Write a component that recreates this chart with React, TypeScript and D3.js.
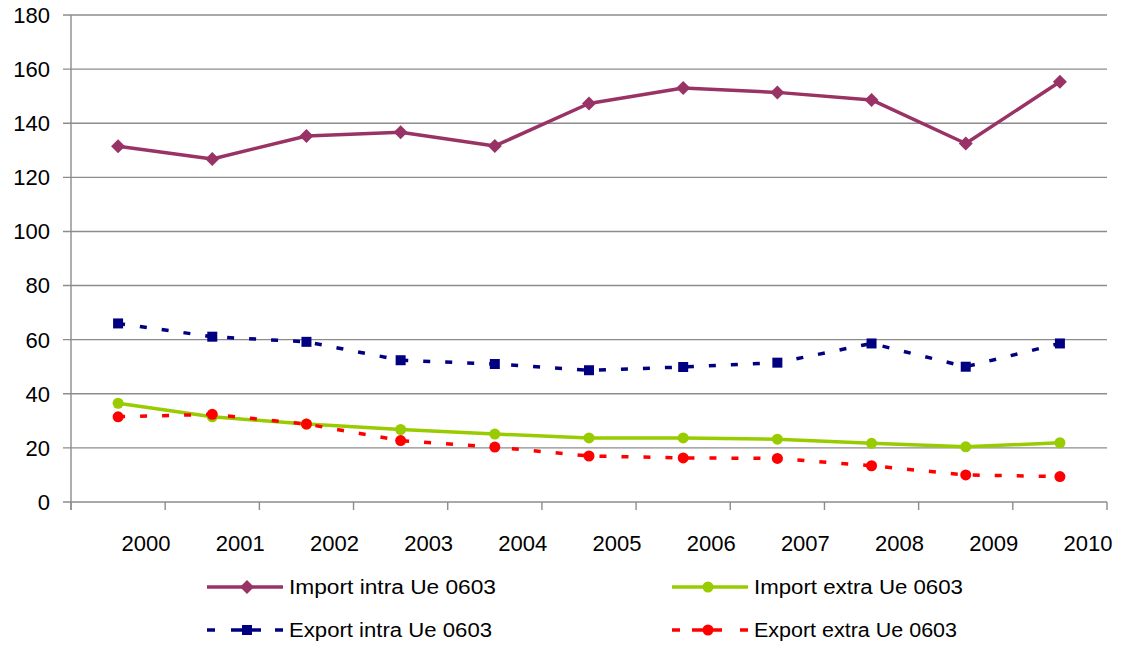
import React from 'react';
import * as d3 from 'd3';

const years = ['2000', '2001', '2002', '2003', '2004', '2005', '2006', '2007', '2008', '2009', '2010'];
const importIntra = [131.5, 126.8, 135.3, 136.7, 131.6, 147.3, 153, 151.4, 148.6, 132.5, 155.3];
const exportIntra = [66, 61.1, 59.2, 52.4, 51, 48.7, 49.9, 51.5, 58.6, 50, 58.6];
const importExtra = [36.5, 31.5, 28.8, 26.8, 25.1, 23.7, 23.7, 23.2, 21.7, 20.4, 21.9];
const exportExtra = [31.5, 32.4, 28.8, 22.7, 20.3, 17, 16.3, 16.1, 13.4, 10, 9.4];
const yTicks = [0, 20, 40, 60, 80, 100, 120, 140, 160, 180];

const series = [
  { name: 'Import intra Ue 0603', values: importIntra, color: '#993366', dash: null, marker: 'diamond', legendX: 207, legendY: 587, markerOff: 40, textW: 207 },
  { name: 'Import extra Ue 0603', values: importExtra, color: '#99cc00', dash: null, marker: 'circle', legendX: 672, legendY: 587, markerOff: 36, textW: 209 },
  { name: 'Export intra Ue 0603', values: exportIntra, color: '#000080', dash: '7,15', marker: 'square', legendX: 207, legendY: 630, markerOff: 40, textW: 203 },
  { name: 'Export extra Ue 0603', values: exportExtra, color: '#ff0000', dash: '7,15', marker: 'circle', legendX: 672, legendY: 630, markerOff: 36, textW: 203 },
];

const left = 71;
const right = 1107;
const top = 15;
const bottom = 502;

function Marker({ type, x, y, color }: { type: string; x: number; y: number; color: string }) {
  if (type === 'diamond') {
    return <path d={`M${x},${y - 7}L${x + 7},${y}L${x},${y + 7}L${x - 7},${y}Z`} fill={color} />;
  }
  if (type === 'square') {
    return <rect x={x - 5} y={y - 5} width={10} height={10} fill={color} />;
  }
  return <circle cx={x} cy={y} r={5.5} fill={color} />;
}

export default function App() {
  const x = d3.scaleBand().domain(years).range([left, right]).padding(0);
  const y = d3.scaleLinear().domain([0, 180]).range([bottom, top]);
  const cx = (yr: string) => (x(yr) as number) + x.bandwidth() / 2;

  const line = d3.line<number>()
    .x((_, i) => cx(years[i]))
    .y(d => y(d));

  const font = '"Liberation Sans", Arial, sans-serif';
  const boundaries = d3.range(years.length + 1).map(i => left + i * x.bandwidth());

  return (
    <svg width={1123} height={645} style={{ position: 'absolute', left: 0, top: 0, background: '#fff' }} fontFamily={font}>
      {/* gridlines + y labels */}
      {yTicks.map(t => (
        <g key={t}>
          <line x1={63} x2={right} y1={y(t)} y2={y(t)} stroke="#8c8c8c" strokeWidth={1.4} />
          <text x={50} y={y(t)} dy="0.36em" textAnchor="end" fontSize={22} fill="#000">{t}</text>
        </g>
      ))}
      {/* y axis */}
      <line x1={left} x2={left} y1={top} y2={bottom + 8} stroke="#8c8c8c" strokeWidth={1.4} />
      {/* x ticks */}
      {boundaries.map((b, i) => (
        <line key={i} x1={b} x2={b} y1={bottom} y2={bottom + 8} stroke="#8c8c8c" strokeWidth={1.4} />
      ))}
      {years.map(yr => (
        <text key={yr} x={cx(yr) + 28} y={551} textAnchor="middle" fontSize={22} fill="#000">{yr}</text>
      ))}
      {/* series */}
      {series.map(s => (
        <g key={s.name}>
          <path d={line(s.values) || ''} fill="none" stroke={s.color} strokeWidth={3.5}
            strokeDasharray={s.dash || undefined} strokeLinejoin="round" />
          {s.values.map((v, i) => (
            <Marker key={i} type={s.marker} x={cx(years[i])} y={y(v)} color={s.color} />
          ))}
        </g>
      ))}
      {/* legend */}
      {series.map(s => (
        <g key={'lg' + s.name}>
          {s.dash ? (
            <g>
              <line x1={s.legendX} x2={s.legendX + 8} y1={s.legendY} y2={s.legendY} stroke={s.color} strokeWidth={3.5} />
              <line x1={s.legendX + s.markerOff - 16} x2={s.legendX + s.markerOff + 14} y1={s.legendY} y2={s.legendY} stroke={s.color} strokeWidth={3.5} />
              <line x1={s.legendX + 68} x2={s.legendX + 76} y1={s.legendY} y2={s.legendY} stroke={s.color} strokeWidth={3.5} />
            </g>
          ) : (
            <line x1={s.legendX} x2={s.legendX + 76} y1={s.legendY} y2={s.legendY} stroke={s.color} strokeWidth={3.5} />
          )}
          <Marker type={s.marker} x={s.legendX + s.markerOff} y={s.legendY} color={s.color} />
          <text x={s.legendX + 82} y={s.legendY} dy="0.36em" fontSize={20} fill="#000"
            textLength={s.textW} lengthAdjust="spacingAndGlyphs">{s.name}</text>
        </g>
      ))}
    </svg>
  );
}
